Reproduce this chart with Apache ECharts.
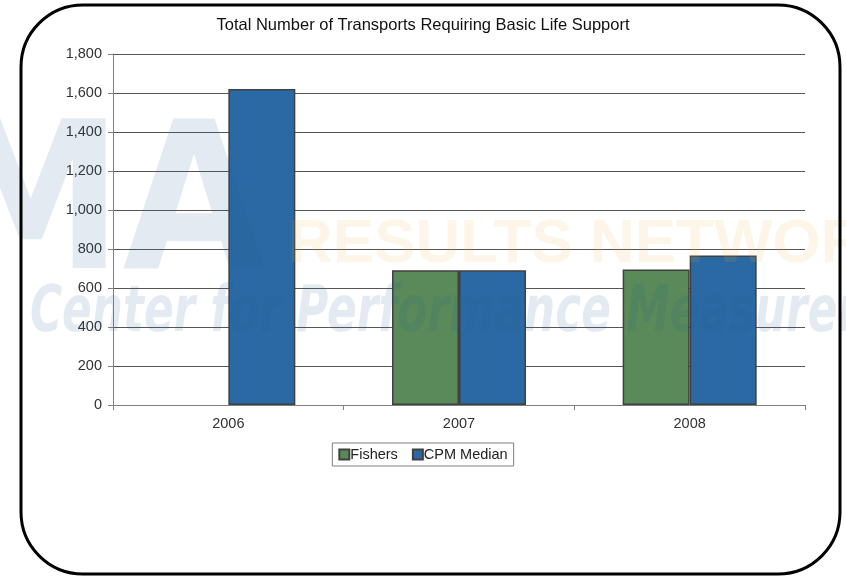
<!DOCTYPE html>
<html><head><meta charset="utf-8">
<script src="https://cdn.jsdelivr.net/npm/echarts@6/dist/echarts.min.js"></script>
<style>html,body{margin:0;padding:0;background:#fff}#c{width:846px;height:579px}</style>
</head><body><div id="c"></div>
<script>
const categories = ['2006', '2007', '2008'];
const fishers = [null, 691, 695];
const cpmMedian = [1620, 691, 767];
const seriesNames = ['Fishers', 'CPM Median'];
const titleText = 'Total Number of Transports Requiring Basic Life Support';

const chart = echarts.init(document.getElementById('c'));
const font = 'Liberation Sans, Arial, sans-serif';
chart.setOption({
  animation: false,
  backgroundColor: '#fff',
  title: {
    text: titleText, left: 'center', top: 12,
    textStyle: {fontFamily: font, fontSize: 16.5, fontWeight: 'normal', color: '#111'}
  },
  grid: {left: 113, right: 41, top: 54, bottom: 174, containLabel: false},
  legend: {
    data: seriesNames, top: 443, left: 'center',
    icon: 'rect', itemWidth: 10, itemHeight: 10, itemGap: 14,
    borderColor: '#7f7f7f', borderWidth: 1, padding: [4, 6, 4, 6],
    textStyle: {fontFamily: font, fontSize: 14.5, color: '#222', padding: [0, 0, 0, -4]}
  },
  xAxis: {
    type: 'category', data: categories,
    axisLine: {lineStyle: {color: '#808080', width: 1}},
    axisTick: {show: true, length: 5, lineStyle: {color: '#808080'}},
    axisLabel: {fontFamily: font, fontSize: 14.5, color: '#333', margin: 11}
  },
  yAxis: {
    type: 'value', min: 0, max: 1800, interval: 200,
    axisLine: {show: true, lineStyle: {color: '#808080'}},
    axisTick: {show: true, length: 5, lineStyle: {color: '#808080'}},
    axisLabel: {fontFamily: font, fontSize: 14.5, color: '#333', margin: 11,
      formatter: v => v.toLocaleString('en-US')},
    splitLine: {lineStyle: {color: '#555', width: 1}}
  },
  series: [
    {name: seriesNames[0], type: 'bar', data: fishers, barWidth: 67, barGap: '0%',
     itemStyle: {color: '#5a8a59', borderColor: '#404040', borderWidth: 1.5}},
    {name: seriesNames[1], type: 'bar', data: cpmMedian, barWidth: 67, barGap: '0%',
     itemStyle: {color: '#2a69a4', borderColor: '#404040', borderWidth: 1.5}}
  ],
  graphic: [
    {type: 'rect', z: 100, silent: true,
     shape: {x: 21, y: 5, width: 819, height: 569, r: 62},
     style: {fill: null, stroke: '#000', lineWidth: 3}},
    {type: 'text', z: 90, silent: true, left: -265, top: 112,
     style: {text: 'ICMA', font: 'bold 205px "DejaVu Sans Condensed", sans-serif', fill: 'rgba(40,90,150,0.13)'}},
    {type: 'text', z: 90, silent: true, left: 288, top: 214,
     style: {text: 'RESULTS NETWORK', font: 'bold 62px "Liberation Sans", sans-serif', fill: 'rgba(240,170,60,0.12)'}},
    {type: 'text', z: 90, silent: true, x: 30, y: 282, scaleX: 0.76,
     style: {text: 'Center for Performance Measurement', font: 'italic bold 64px "DejaVu Sans Condensed", sans-serif', fill: 'rgba(40,90,150,0.13)'}}
  ]
});
</script></body></html>
